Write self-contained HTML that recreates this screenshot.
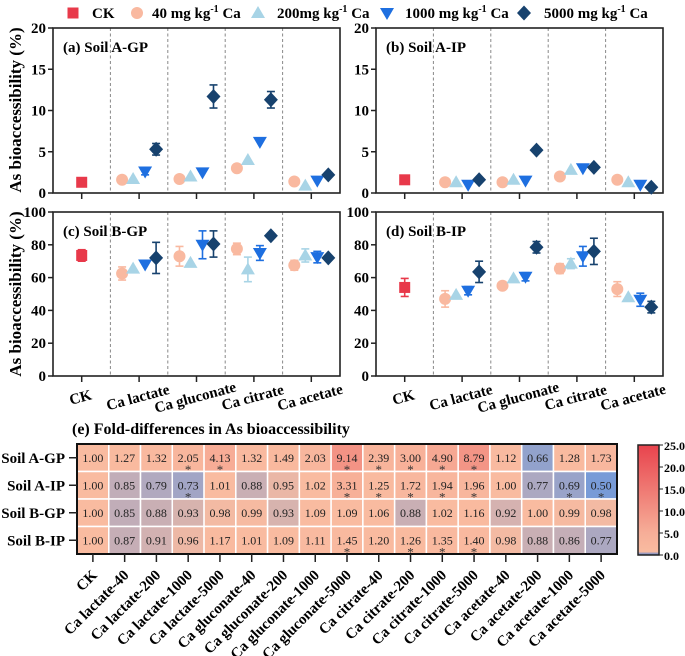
<!DOCTYPE html>
<html><head><meta charset="utf-8"><style>
html,body{margin:0;padding:0;background:#fff;}
svg{display:block;font-family:"Liberation Serif",serif;}
</style></head><body>
<svg id="s" width="685" height="656" xmlns="http://www.w3.org/2000/svg"></svg>
<script>
const S=document.getElementById('s');let h='';
const C={ck:'#e8394a',c40:'#f9b9a0',c200:'#a8d4e6',c1000:'#1e6fe0',c5000:'#17426e'};
function mk(t,x,y,col){
 if(t==0)return `<rect x="${x-5.5}" y="${y-5.5}" width="11" height="11" fill="${col}"/>`;
 if(t==1)return `<circle cx="${x}" cy="${y}" r="6" fill="${col}"/>`;
 if(t==2)return `<polygon points="${x},${y-7} ${x+7},${y+5} ${x-7},${y+5}" fill="${col}"/>`;
 if(t==3)return `<polygon points="${x-7},${y-5} ${x+7},${y-5} ${x},${y+7}" fill="${col}"/>`;
 return `<polygon points="${x},${y-7.5} ${x+7},${y} ${x},${y+7.5} ${x-7},${y}" fill="${col}"/>`;
}
const cols=[C.ck,C.c40,C.c200,C.c1000,C.c5000];
// legend
const lg=[[73,'CK',92],[137,'40 mg kg',152],[258,'200mg kg',277],[387,'1000 mg kg',405],[524,'5000 mg kg',544]];
lg.forEach((l,i)=>{h+=mk(i,l[0],13,cols[i]);
 h+=`<text x="${l[2]}" y="18" font-size="15" font-weight="bold">${l[1]}${i?'<tspan dy="-6" font-size="10">-1</tspan><tspan dy="6"> Ca</tspan>':''}</text>`;});
function panel(L,R,T,B,max,step,title,data,labels){
 const yv=v=>B-v/max*(B-T);
 const w=R-L, sp=w/5;
 for(let i=1;i<5;i++){const x=L+sp*i;h+=`<line x1="${x}" y1="${T}" x2="${x}" y2="${B}" stroke="#888" stroke-dasharray="3,2.5" stroke-width="1"/>`;}
 h+=`<rect x="${L}" y="${T}" width="${w}" height="${B-T}" fill="none" stroke="#222" stroke-width="1.6"/>`;
 for(let v=0;v<=max;v+=step){const y=yv(v);h+=`<line x1="${L-5}" y1="${y}" x2="${L}" y2="${y}" stroke="#222" stroke-width="1.5"/><text x="${L-7}" y="${y+5}" font-size="15" font-weight="bold" text-anchor="end">${v}</text>`;}
 const names=['CK','Ca lactate','Ca gluconate','Ca citrate','Ca acetate'];
 for(let i=0;i<5;i++){const x=L+sp*(i+0.5);h+=`<line x1="${x}" y1="${B}" x2="${x}" y2="${B+6}" stroke="#222" stroke-width="1.5"/>`;
  if(labels)h+=`<text transform="translate(${x},${B+26}) rotate(-15)" font-size="15" font-weight="bold" text-anchor="middle">${names[i]}</text>`;}
 h+=`<text x="${L+10}" y="${T+24}" font-size="15" font-weight="bold">${title}</text>`;
 // data: CK [v,e], then groups of 4
 const d=data;const x0=L+sp*0.5;
 function pt(t,x,v,e,col){if(e){h+=`<g stroke="${col}" stroke-width="1.6"><line x1="${x}" y1="${yv(v-e)}" x2="${x}" y2="${yv(v+e)}"/><line x1="${x-4}" y1="${yv(v-e)}" x2="${x+4}" y2="${yv(v-e)}"/><line x1="${x-4}" y1="${yv(v+e)}" x2="${x+4}" y2="${yv(v+e)}"/></g>`;}h+=mk(t,x,yv(v),col);}
 pt(0,x0,d[0][0],d[0][1],C.ck);
 const off=[-17,-6,6,17];
 for(let g=0;g<4;g++)for(let k=0;k<4;k++){const p=d[1+g][k];pt(k+1,L+sp*(g+1.5)+off[k],p[0],p[1],cols[k+1]);}
}
panel(53,340,28,193,20,5,'(a) Soil A-GP',[[1.3,0],[[1.6,0],[1.7,0],[2.6,0.4],[5.3,0.7]],[[1.7,0],[2.0,0],[2.5,0],[11.7,1.4]],[[3.0,0],[4.0,0],[6.2,0],[11.3,1.0]],[[1.4,0],[0.9,0],[1.5,0],[2.2,0]]],false);
panel(376,663,28,193,20,5,'(b) Soil A-IP',[[1.6,0],[[1.3,0],[1.3,0],[1.0,0],[1.6,0]],[[1.3,0],[1.6,0],[1.5,0],[5.2,0]],[[2.0,0],[2.8,0],[3.0,0],[3.1,0]],[[1.6,0],[1.3,0],[1.0,0],[0.7,0]]],false);
panel(53,340,212,376,100,20,'(c) Soil B-GP',[[73.5,3.5],[[62.5,4],[65.5,0],[68,0],[72,9.5]],[[73,6],[69,0],[80,8.5],[80.5,8]],[[77.5,3.5],[65,7.5],[75,4.5],[85.5,0]],[[67.5,3],[73.5,4],[72.5,3.5],[72,0]]],true);
panel(376,663,212,376,100,20,'(d) Soil B-IP',[[54,5.5],[[47,5],[49.5,0],[52,2.5],[63.5,6.5]],[[55,0],[59.5,0],[60.5,2.5],[78.5,3.5]],[[65.5,3],[68.5,3],[73,6],[76,8]],[[53,4.5],[48,0],[46.5,4],[42,3.5]]],true);
h+=`<text transform="translate(21,110) rotate(-90)" font-size="17" font-weight="bold" text-anchor="middle">As bioaccessibility (%)</text>`;
h+=`<text transform="translate(21,294) rotate(-90)" font-size="17" font-weight="bold" text-anchor="middle">As bioaccessibility (%)</text>`;
// heatmap
h+=`<text x="72" y="434" font-size="16" font-weight="bold">(e) Fold-differences in As bioaccessibility</text>`;
const V=[[1.00,1.27,1.32,2.05,4.13,1.32,1.49,2.03,9.14,2.39,3.00,4.90,8.79,1.12,0.66,1.28,1.73],
[1.00,0.85,0.79,0.73,1.01,0.88,0.95,1.02,3.31,1.25,1.72,1.94,1.96,1.00,0.77,0.69,0.50],
[1.00,0.85,0.88,0.93,0.98,0.99,0.93,1.09,1.09,1.06,0.88,1.02,1.16,0.92,1.00,0.99,0.98],
[1.00,0.87,0.91,0.96,1.17,1.01,1.09,1.11,1.45,1.20,1.26,1.35,1.40,0.98,0.88,0.86,0.77]];
const ST=[[3,4,8,9,10,11,12],[3,8,9,10,11,12,15,16],[],[8,10,11,12]];
const rows=['Soil A-GP','Soil A-IP','Soil B-GP','Soil B-IP'];
const xl=['CK','Ca lactate-40','Ca lactate-200','Ca lactate-1000','Ca lactate-5000','Ca gluconate-40','Ca gluconate-200','Ca gluconate-1000','Ca gluconate-5000','Ca citrate-40','Ca citrate-200','Ca citrate-1000','Ca citrate-5000','Ca acetate-40','Ca acetate-200','Ca acetate-1000','Ca acetate-5000'];
function mix(a,b,t){t=Math.max(0,Math.min(1,t));return 'rgb('+[0,1,2].map(i=>Math.round(a[i]+(b[i]-a[i])*t)).join(',')+')';}
const blue=[120,155,215],peach=[249,187,160],red=[232,70,80];
function col(v){if(v<1)return mix(blue,peach,Math.pow((v-0.5)/0.5,1.3)*0.9+0.05*(v>=0.95?2:0));return mix(peach,red,(v-1)/24);}
const HL=77,HT=444,HR=617,HB=554,cw=(HR-HL)/17,rh=(HB-HT)/4;
for(let r=0;r<4;r++)for(let c=0;c<17;c++){const x=HL+c*cw,y=HT+r*rh,v=V[r][c];
 h+=`<rect x="${x}" y="${y}" width="${cw}" height="${rh}" fill="${col(v)}" stroke="#fff" stroke-width="1.5"/>`;
 h+=`<text x="${x+cw/2}" y="${y+rh/2+4}" font-size="12" text-anchor="middle" fill="#222">${v.toFixed(2)}</text>`;
 if(ST[r].includes(c))h+=`<text x="${x+cw/2}" y="${y+rh/2+16}" font-size="13" text-anchor="middle" fill="#333">*</text>`;}
h+=`<rect x="${HL}" y="${HT}" width="${HR-HL}" height="${HB-HT}" fill="none" stroke="#111" stroke-width="2"/>`;
rows.forEach((n,r)=>{const y=HT+(r+0.5)*rh;h+=`<line x1="${HL-8}" y1="${y}" x2="${HL}" y2="${y}" stroke="#222" stroke-width="1.5"/><text x="${HL-12}" y="${y+5}" font-size="15" font-weight="bold" text-anchor="end">${n}</text>`;});
xl.forEach((n,c)=>{const x=HL+(c+0.5)*cw;h+=`<line x1="${x}" y1="${HB}" x2="${x}" y2="${HB+8}" stroke="#222" stroke-width="1.5"/><text transform="translate(${x+5},${HB+22}) rotate(-45)" font-size="15" font-weight="bold" text-anchor="end">${n}</text>`;});
// colorbar
h+=`<defs><linearGradient id="cb" x1="0" y1="1" x2="0" y2="0"><stop offset="0" stop-color="#4a7fd8"/><stop offset="0.03" stop-color="#f9bba0"/><stop offset="0.2" stop-color="#f6ae98"/><stop offset="1" stop-color="#e8434d"/></linearGradient></defs>`;
h+=`<rect x="638" y="445" width="21" height="110" fill="url(#cb)" stroke="#222" stroke-width="1.5"/>`;
['25.0','20.0','15.0','10.0','5.0','0.0'].forEach((t,i)=>{const y=445+i*22;h+=`<line x1="659" y1="${y}" x2="663" y2="${y}" stroke="#222"/><text x="664" y="${y+5}" font-size="12" font-weight="bold">${t}</text>`;});
S.innerHTML=h;
</script>
</body></html>
